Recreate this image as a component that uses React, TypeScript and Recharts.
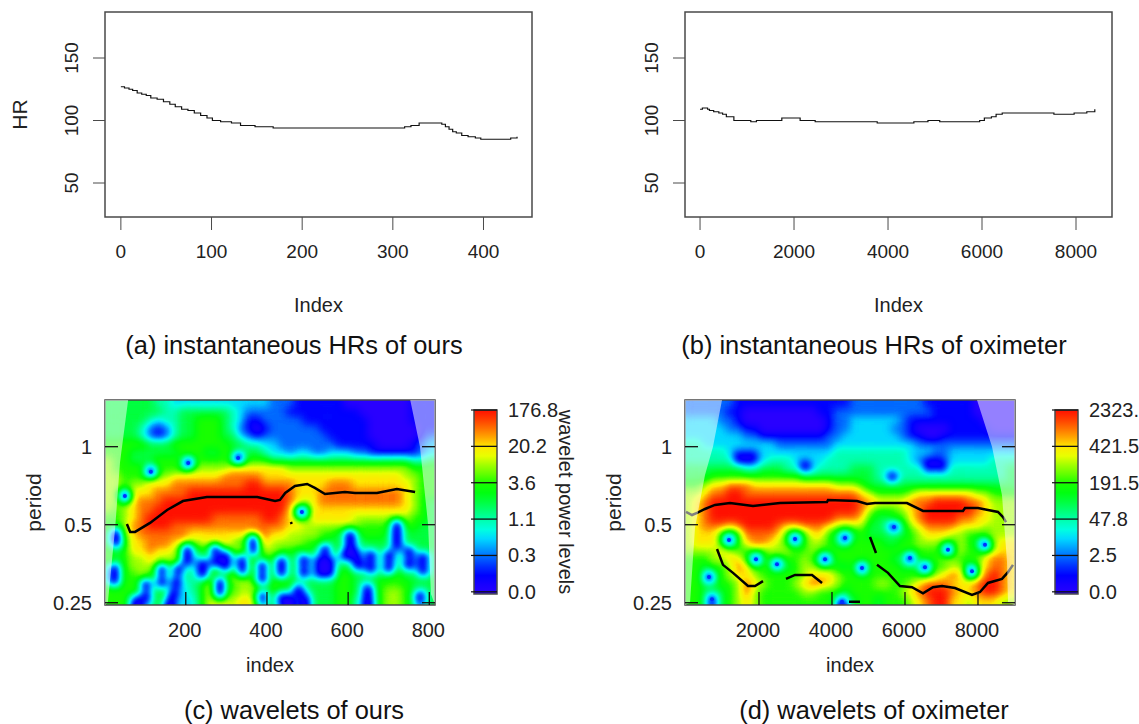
import React from 'react';
import {
  Area, Bar, BarChart, ComposedChart, Line, LineChart, ReferenceArea, ReferenceLine, Scatter, XAxis, YAxis,
} from 'recharts';

// top row: instantaneous HR
const oursHrIndex = [0, 4, 9, 13, 18, 23, 28, 33, 40, 47, 54, 60, 67, 74, 81, 88, 95, 101, 110, 122, 132, 148, 168, 299, 313, 320, 329, 354, 358, 362, 366, 370, 376, 383, 391, 397, 421, 430, 437];
const oursHrValue = [127, 126, 125, 124, 122, 121, 120, 118, 117, 115, 113, 111, 109, 108, 106, 104, 102, 100, 99, 98, 96, 95, 94, 94, 95, 96, 98, 97, 95, 93, 91, 90, 88, 87, 86, 85, 85, 86, 87];
const oxiHrIndex = [0, 50, 160, 200, 290, 400, 480, 560, 720, 1080, 1200, 1740, 2130, 2450, 3770, 4550, 4850, 5100, 5950, 6050, 6200, 6300, 6430, 7530, 7960, 8230, 8400];
const oxiHrValue = [109, 110, 109, 108, 107, 106, 105, 103, 100, 99, 100, 102, 100, 99, 98, 99, 100, 99, 100, 102, 103, 105, 106, 105, 106, 107, 109];
const oursHrTicks = [0, 100, 200, 300, 400];
const oxiHrTicks = [0, 2000, 4000, 6000, 8000];
const hrTicks = [50, 100, 150];

// wavelet panels, levels 0..10 run along the colour key
const keyTicks = [0, 2, 4, 6, 8, 10];
const oursKeyLabels = ['0.0', '0.3', '1.1', '3.6', '20.2', '176.8'];
const oxiKeyLabels = ['0.0', '2.5', '47.8', '191.5', '421.5', '2323.'];
const keyColors = ['#2a00ff', '#1800ff', '#0000ff', '#0030ff', '#0068ff', '#00a0ff', '#00d8ff', '#00ffe0', '#00ffb0', '#00ff78', '#00ff40', '#00ff10', '#18ff00', '#60ff00', '#a0ff00', '#e8ff00', '#ffe800', '#ffa800', '#ff7000', '#ff3c00', '#ff1000'];
const periodTicks = [0.25, 0.5, 1];
const oursIndexTicks = [200, 400, 600, 800];
const oxiIndexTicks = [2000, 4000, 6000, 8000];

const rowPeriods = [1.46, 1.36, 1.26, 1.17, 1.09, 1.02, 0.945, 0.88, 0.82, 0.76, 0.71, 0.66, 0.61, 0.57, 0.53, 0.49, 0.46, 0.425, 0.395, 0.37, 0.34, 0.32, 0.295, 0.275, 0.255];
const oursCols = [11, 31, 52, 72, 92, 113, 133, 153, 174, 194, 214, 235, 255, 275, 296, 316, 336, 356, 377, 397, 417, 438, 458, 478, 499, 519, 539, 560, 580, 600, 620, 641, 661, 681, 702, 722, 742, 763, 783, 803];
const oxiCols = [85, 311, 537, 763, 989, 1215, 1441, 1667, 1893, 2119, 2345, 2571, 2797, 3023, 3249, 3475, 3701, 3927, 4153, 4379, 4605, 4831, 5057, 5283, 5509, 5735, 5961, 6187, 6413, 6639, 6865, 7091, 7317, 7543, 7769, 7995, 8221, 8447, 8673, 8899];

const oursLevels = [
  [5, 5, 5, 5, 5, 5, 4, 4, 3, 3, 3, 3, 3, 3, 3, 3, 3, 3, 3, 3, 2, 2, 2, 1, 1, 1, 1, 1, 1, 0, 0, 0, 0, 0, 0, 0, 0, 1, 1, 1],
  [5, 5, 5, 5, 5, 5, 5, 4, 4, 5, 5, 5, 5, 5, 5, 4, 3, 2, 2, 2, 2, 2, 1, 1, 1, 1, 1, 1, 1, 1, 1, 0, 0, 0, 0, 0, 0, 1, 1, 1],
  [5, 5, 5, 5, 5, 4, 3, 4, 4, 5, 5, 6, 6, 6, 5, 4, 3, 1, 1, 2, 2, 2, 2, 2, 1, 1, 1, 1, 1, 1, 1, 1, 0, 0, 0, 0, 0, 1, 1, 1],
  [5, 5, 5, 5, 4, 2, 1, 2, 4, 5, 5, 6, 6, 6, 5, 4, 2, 1, 0, 1, 2, 2, 2, 2, 2, 2, 1, 1, 1, 1, 1, 1, 0, 0, 0, 0, 0, 0, 1, 1],
  [5, 5, 5, 5, 4, 2, 1, 2, 4, 5, 5, 6, 6, 6, 5, 5, 3, 2, 1, 2, 2, 2, 2, 2, 2, 2, 2, 1, 1, 1, 1, 1, 0, 0, 0, 0, 0, 0, 1, 2],
  [6, 6, 6, 6, 6, 5, 5, 5, 6, 6, 6, 6, 6, 6, 6, 5, 5, 4, 4, 3, 3, 2, 2, 2, 2, 2, 2, 2, 1, 1, 1, 1, 1, 0, 0, 0, 0, 1, 2, 3],
  [6, 6, 6, 5, 5, 5, 5, 5, 5, 6, 6, 6, 5, 5, 6, 6, 5, 5, 5, 4, 3, 3, 2, 3, 3, 2, 2, 3, 3, 3, 2, 2, 1, 1, 1, 1, 1, 1, 2, 3],
  [7, 6, 6, 5, 5, 5, 6, 6, 6, 6, 6, 6, 6, 6, 6, 6, 6, 6, 6, 6, 5, 5, 5, 5, 5, 5, 5, 5, 5, 5, 5, 5, 5, 5, 5, 5, 5, 4, 4, 5],
  [7, 6, 6, 6, 6, 6, 6, 6, 6, 6, 7, 7, 7, 7, 7, 8, 8, 8, 8, 8, 8, 8, 7, 7, 7, 7, 7, 7, 7, 7, 7, 7, 7, 7, 7, 7, 7, 6, 6, 6],
  [7, 7, 6, 6, 6, 7, 7, 7, 8, 8, 8, 8, 8, 8, 9, 9, 9, 9, 9, 8, 8, 8, 8, 8, 8, 8, 8, 8, 8, 8, 8, 8, 8, 8, 8, 8, 7, 7, 6, 6],
  [7, 7, 6, 7, 7, 8, 8, 8, 9, 9, 9, 9, 9, 9, 9, 9, 9, 10, 10, 9, 9, 9, 9, 8, 8, 8, 8, 9, 9, 9, 8, 8, 8, 8, 8, 8, 8, 7, 6, 6],
  [7, 7, 6, 8, 8, 8, 9, 9, 9, 9, 10, 10, 10, 10, 10, 10, 10, 10, 10, 10, 10, 10, 9, 8, 8, 8, 9, 9, 9, 9, 9, 9, 9, 9, 9, 9, 8, 7, 6, 6],
  [7, 7, 7, 8, 9, 9, 9, 10, 10, 10, 10, 10, 10, 10, 10, 10, 10, 10, 10, 10, 10, 10, 9, 8, 7, 8, 9, 9, 9, 9, 9, 9, 9, 9, 9, 9, 8, 7, 6, 5],
  [7, 6, 7, 8, 9, 9, 10, 10, 10, 10, 10, 10, 10, 10, 10, 10, 10, 10, 10, 10, 10, 10, 8, 6, 6, 8, 8, 8, 8, 8, 8, 8, 8, 8, 8, 8, 8, 7, 6, 5],
  [6, 6, 7, 8, 9, 10, 10, 10, 10, 10, 10, 10, 10, 9, 9, 9, 9, 9, 9, 10, 10, 9, 8, 7, 7, 8, 8, 8, 8, 8, 7, 7, 7, 7, 7, 7, 7, 6, 6, 5],
  [6, 6, 7, 9, 9, 10, 10, 10, 9, 9, 9, 9, 9, 9, 9, 9, 9, 9, 9, 9, 9, 9, 8, 8, 7, 7, 7, 7, 7, 7, 7, 6, 6, 6, 6, 5, 6, 6, 5, 5],
  [6, 5, 7, 8, 9, 9, 9, 9, 9, 9, 8, 8, 8, 8, 8, 8, 8, 8, 9, 9, 8, 8, 7, 7, 7, 7, 6, 6, 5, 5, 5, 6, 6, 6, 5, 4, 5, 5, 5, 5],
  [6, 5, 6, 8, 8, 9, 9, 9, 8, 8, 7, 7, 8, 8, 8, 7, 6, 7, 8, 8, 7, 7, 7, 7, 6, 6, 6, 5, 5, 4, 4, 5, 5, 5, 5, 4, 5, 5, 5, 5],
  [6, 5, 6, 8, 8, 9, 8, 8, 7, 6, 5, 5, 6, 7, 6, 7, 7, 7, 6, 7, 7, 6, 6, 5, 6, 5, 5, 5, 6, 5, 4, 4, 5, 5, 5, 4, 5, 5, 5, 5],
  [6, 5, 6, 7, 7, 8, 7, 7, 7, 6, 4, 4, 6, 7, 5, 5, 6, 7, 6, 6, 6, 5, 5, 5, 5, 4, 4, 5, 5, 5, 4, 4, 5, 5, 5, 4, 5, 4, 4, 5],
  [6, 4, 6, 7, 7, 7, 7, 6, 6, 5, 4, 4, 6, 6, 5, 6, 6, 6, 6, 5, 6, 5, 5, 5, 5, 4, 4, 5, 5, 5, 4, 4, 5, 5, 5, 5, 4, 4, 4, 5],
  [6, 4, 6, 6, 7, 6, 6, 6, 6, 5, 4, 5, 6, 6, 6, 7, 7, 6, 6, 5, 6, 6, 5, 5, 5, 4, 4, 5, 6, 6, 5, 5, 5, 5, 6, 6, 5, 5, 5, 5],
  [6, 5, 6, 6, 6, 6, 5, 6, 6, 4, 4, 5, 7, 7, 6, 6, 7, 7, 6, 5, 6, 6, 6, 5, 5, 5, 5, 5, 6, 6, 5, 4, 5, 6, 6, 6, 6, 5, 5, 5],
  [6, 6, 6, 6, 6, 5, 5, 6, 5, 3, 4, 5, 7, 7, 7, 6, 7, 7, 7, 5, 6, 5, 5, 4, 4, 5, 5, 5, 6, 6, 5, 4, 5, 6, 7, 7, 6, 5, 4, 5],
  [6, 6, 6, 5, 5, 5, 5, 6, 5, 3, 3, 5, 7, 8, 8, 7, 8, 8, 7, 5, 5, 5, 4, 3, 4, 5, 5, 5, 6, 6, 4, 3, 4, 6, 7, 7, 6, 5, 4, 5],
];

const oxiLevels = [
  [2, 2, 2, 2, 2, 2, 1, 1, 1, 1, 1, 1, 1, 1, 1, 1, 1, 1, 1, 1, 2, 2, 2, 2, 2, 2, 2, 2, 2, 1, 1, 1, 1, 1, 1, 0, 0, 0, 0, 0],
  [2, 2, 2, 2, 2, 1, 1, 0, 0, 0, 0, 0, 0, 0, 0, 0, 1, 1, 2, 2, 2, 2, 2, 2, 2, 2, 2, 2, 2, 2, 1, 1, 1, 1, 1, 0, 0, 0, 0, 0],
  [3, 3, 3, 3, 2, 2, 1, 0, 0, 0, 0, 0, 0, 0, 0, 0, 0, 1, 2, 2, 3, 3, 3, 3, 3, 3, 2, 1, 1, 1, 1, 1, 1, 1, 1, 1, 0, 0, 0, 0],
  [3, 3, 3, 3, 3, 2, 2, 1, 1, 0, 0, 0, 0, 0, 0, 0, 0, 1, 2, 2, 3, 3, 3, 3, 3, 2, 2, 1, 0, 0, 0, 0, 1, 1, 1, 1, 1, 0, 0, 0],
  [3, 3, 3, 3, 3, 3, 3, 2, 2, 1, 1, 1, 1, 1, 1, 1, 1, 2, 2, 3, 3, 3, 3, 3, 3, 3, 2, 1, 1, 0, 0, 1, 1, 1, 1, 1, 1, 1, 1, 1],
  [4, 4, 3, 3, 3, 3, 3, 3, 3, 3, 3, 2, 2, 2, 2, 2, 2, 2, 3, 3, 3, 3, 3, 3, 3, 3, 3, 3, 2, 2, 2, 2, 2, 2, 2, 2, 2, 2, 2, 2],
  [4, 4, 4, 4, 4, 3, 2, 2, 2, 3, 3, 3, 3, 3, 3, 3, 3, 3, 4, 4, 4, 4, 4, 4, 4, 4, 4, 3, 3, 3, 2, 2, 3, 3, 3, 3, 3, 3, 3, 3],
  [4, 4, 4, 4, 4, 4, 2, 1, 2, 3, 4, 4, 4, 3, 3, 3, 3, 4, 4, 4, 4, 4, 4, 4, 4, 4, 4, 3, 2, 1, 1, 2, 3, 3, 3, 3, 3, 4, 4, 4],
  [5, 5, 5, 5, 5, 5, 5, 4, 4, 5, 5, 5, 4, 4, 3, 3, 4, 4, 4, 4, 5, 5, 5, 4, 4, 4, 4, 4, 4, 3, 3, 3, 4, 4, 4, 4, 4, 4, 4, 5],
  [5, 5, 5, 6, 6, 6, 6, 6, 6, 6, 6, 6, 6, 6, 5, 5, 5, 5, 5, 5, 5, 5, 5, 4, 4, 3, 4, 4, 4, 4, 4, 4, 4, 4, 4, 4, 4, 4, 4, 5],
  [6, 6, 7, 8, 8, 9, 9, 9, 8, 8, 8, 8, 8, 8, 8, 8, 8, 8, 7, 7, 7, 6, 5, 5, 5, 5, 5, 5, 5, 5, 5, 5, 5, 5, 5, 5, 5, 5, 5, 5],
  [7, 7, 8, 9, 9, 10, 10, 9, 9, 9, 9, 9, 9, 9, 9, 9, 9, 9, 9, 9, 9, 8, 7, 6, 6, 6, 6, 7, 8, 8, 8, 8, 8, 8, 8, 7, 7, 6, 6, 6],
  [7, 8, 9, 10, 10, 10, 10, 10, 10, 10, 10, 10, 10, 10, 10, 10, 10, 10, 10, 10, 10, 9, 9, 8, 8, 8, 8, 9, 9, 9, 10, 10, 10, 10, 9, 9, 8, 7, 7, 7],
  [7, 8, 9, 10, 10, 10, 10, 10, 10, 10, 10, 10, 10, 10, 10, 10, 10, 10, 10, 10, 10, 9, 7, 6, 6, 6, 7, 8, 9, 10, 10, 10, 10, 10, 10, 9, 8, 7, 7, 7],
  [7, 8, 9, 10, 10, 10, 10, 10, 10, 10, 10, 10, 10, 10, 10, 10, 10, 10, 9, 9, 9, 8, 6, 5, 5, 6, 6, 8, 9, 10, 10, 10, 10, 9, 9, 8, 8, 7, 7, 7],
  [7, 8, 9, 9, 9, 8, 9, 10, 10, 10, 10, 9, 8, 8, 9, 9, 9, 8, 7, 6, 7, 7, 5, 5, 4, 5, 5, 7, 8, 9, 9, 9, 9, 8, 8, 8, 7, 7, 7, 7],
  [7, 8, 8, 8, 6, 5, 6, 9, 9, 9, 9, 8, 6, 5, 6, 8, 8, 6, 5, 5, 5, 6, 5, 5, 5, 5, 5, 6, 7, 8, 8, 8, 7, 7, 6, 6, 6, 7, 7, 7],
  [7, 8, 8, 8, 6, 5, 6, 8, 9, 9, 8, 7, 6, 5, 6, 7, 7, 6, 5, 5, 6, 6, 6, 6, 5, 5, 6, 6, 7, 7, 7, 6, 6, 7, 6, 5, 6, 7, 8, 8],
  [7, 7, 7, 7, 8, 7, 6, 6, 6, 6, 7, 7, 7, 6, 6, 7, 6, 6, 6, 6, 6, 6, 6, 6, 6, 6, 6, 6, 6, 6, 6, 6, 7, 7, 6, 6, 6, 7, 8, 8],
  [6, 6, 6, 7, 7, 8, 8, 6, 5, 6, 6, 6, 6, 6, 7, 6, 5, 5, 6, 6, 6, 6, 6, 6, 6, 5, 5, 5, 6, 6, 6, 7, 7, 6, 6, 6, 8, 9, 9, 8],
  [6, 6, 5, 6, 6, 7, 9, 8, 6, 6, 6, 6, 5, 6, 7, 7, 6, 6, 5, 5, 6, 5, 6, 6, 6, 6, 5, 5, 5, 5, 6, 6, 7, 7, 5, 7, 8, 9, 9, 8],
  [6, 6, 5, 5, 6, 7, 8, 8, 7, 6, 6, 6, 6, 6, 7, 8, 8, 8, 7, 6, 6, 6, 6, 6, 6, 6, 6, 6, 6, 6, 7, 8, 9, 8, 5, 7, 9, 10, 9, 8],
  [6, 6, 5, 5, 6, 6, 7, 9, 8, 7, 6, 6, 6, 7, 8, 9, 9, 8, 7, 6, 6, 6, 6, 7, 7, 6, 6, 7, 8, 9, 9, 9, 8, 8, 8, 9, 10, 10, 9, 8],
  [6, 6, 5, 5, 5, 6, 7, 9, 7, 6, 6, 6, 6, 6, 7, 7, 6, 6, 6, 5, 6, 6, 6, 6, 6, 6, 7, 8, 9, 10, 10, 10, 9, 8, 8, 9, 10, 10, 9, 8],
  [6, 6, 5, 5, 5, 6, 7, 8, 7, 6, 6, 6, 6, 6, 6, 6, 6, 6, 5, 5, 5, 6, 6, 5, 6, 6, 6, 7, 8, 9, 10, 10, 8, 8, 7, 8, 8, 8, 7, 7],
];

// low-power pockets between the grid rows
const oursSpotIndex = [114, 206, 329, 50, 28, 28, 23, 23, 141, 141, 102, 102, 77, 203, 203, 181, 176, 169, 161, 272, 272, 299, 299, 242, 242, 284, 284, 339, 339, 366, 366, 388, 388, 388, 486, 435, 435, 437, 491, 491, 531, 555, 531, 555, 543, 477, 457, 494, 605, 605, 592, 617, 625, 657, 657, 649, 649, 720, 720, 720, 700, 700, 750, 750, 785, 785, 777];
const oursSpotPeriod = [0.8, 0.865, 0.904, 0.645, 0.46, 0.43, 0.334, 0.306, 0.334, 0.3, 0.293, 0.263, 0.254, 0.4, 0.365, 0.334, 0.3, 0.27, 0.25, 0.4, 0.36, 0.379, 0.346, 0.35, 0.325, 0.298, 0.273, 0.365, 0.334, 0.436, 0.4, 0.346, 0.311, 0.263, 0.56, 0.359, 0.328, 0.26, 0.365, 0.328, 0.36, 0.36, 0.328, 0.328, 0.4, 0.28, 0.256, 0.256, 0.456, 0.418, 0.382, 0.382, 0.35, 0.379, 0.34, 0.28, 0.256, 0.498, 0.456, 0.418, 0.379, 0.34, 0.392, 0.352, 0.372, 0.334, 0.263];
const oxiSpotIndex = [1178, 1918, 2493, 2987, 3809, 4357, 630, 713, 4274, 4822, 5699, 6137, 6548, 7178, 8192, 7836, 1452, 1781, 3260, 5644, 6658, 6986];
const oxiSpotPeriod = [0.436, 0.368, 0.352, 0.44, 0.368, 0.444, 0.314, 0.258, 0.252, 0.34, 0.49, 0.372, 0.343, 0.4, 0.418, 0.331, 0.904, 0.904, 0.843, 0.764, 0.843, 0.843];

// blue cores of the smallest pockets
const oursCoreIndex = [114, 206, 329, 50, 486];
const oursCorePeriod = [0.8, 0.865, 0.904, 0.645, 0.56];
const oxiCoreIndex = [1178, 1918, 2493, 2987, 3809, 4357, 630, 713, 4274, 4822, 5699, 6137, 6548, 7178, 8192, 7836];
const oxiCorePeriod = [0.436, 0.368, 0.352, 0.44, 0.368, 0.444, 0.314, 0.258, 0.252, 0.34, 0.49, 0.372, 0.343, 0.4, 0.418, 0.331];

// ridges, null breaks the line
const oursRidgeIndex = [55, 63, 75, 112, 154, 193, 252, 376, 420, 432, 445, 469, 499, 518, 543, 592, 617, 671, 720, 765, 766, 459, 461];
const oursRidgePeriod = [0.503, 0.469, 0.469, 0.508, 0.57, 0.617, 0.639, 0.639, 0.617, 0.623, 0.663, 0.705, 0.718, 0.693, 0.657, 0.668, 0.663, 0.663, 0.687, 0.668, null, 0.512, 0.503];
const oxiRidgeIndex = [1, 165, 302, 521, 795, 1206, 1836, 2576, 3863, 3891, 4685, 4959, 5178, 6055, 6494, 7589, 7644, 8000, 8548, 8685, 8768, 8770,
  850, 1014, 1288, 1699, 1891, 2110, 2111, 2740, 2987, 3453, 3727, 3728, 5041, 5206, 5207, 5233, 5534, 5863, 6192, 6494, 6767, 7014, 7370, 7836, 8055, 8274, 8658, 8822, 8959, 8960, 4466, 4767];
const oxiRidgePeriod = [0.56, 0.545, 0.555, 0.575, 0.596, 0.606, 0.59, 0.606, 0.612, 0.623, 0.617, 0.601, 0.606, 0.606, 0.565, 0.565, 0.58, 0.58, 0.56, 0.535, 0.512, null,
  0.403, 0.35, 0.326, 0.29, 0.29, 0.303, null, 0.309, 0.32, 0.32, 0.298, null, 0.448, 0.389, null, 0.35, 0.326, 0.29, 0.287, 0.272, 0.287, 0.29, 0.285, 0.268, 0.275, 0.298, 0.309, 0.328, 0.35, null, 0.252, 0.252];

// cone of influence: pale above these periods
const oursCoiLeftIndex = [1, 8, 26, 38, 58];
const oursCoiLeftPeriod = [0.245, 0.25, 0.486, 0.87, 1.514];
const oursCoiRightIndex = [753, 777, 797, 804, 814];
const oursCoiRightPeriod = [1.514, 1, 0.5, 0.27, 0.245];
const oxiCoiLeftIndex = [-27, 110, 247, 521, 740, 987];
const oxiCoiLeftPeriod = [0.245, 0.25, 0.486, 0.778, 1, 1.514];
const oxiCoiRightIndex = [7973, 8384, 8658, 8795, 8822, 9014];
const oxiCoiRightPeriod = [1.514, 1, 0.65, 0.36, 0.25, 0.245];

const FONT = '"Liberation Sans", Arial, sans-serif';
const TEXT = '#222';
const BOX = '#4a4a4a';
const PERIOD_TOP = 1.514;
const PERIOD_BOTTOM = 0.245;

const channel = (start: number) => keyColors.map((c) => parseInt(c.slice(start, start + 2), 16) / 255).join(' ');

function zip(xs: number[], ys: (number | null)[], key: string) {
  return xs.map((x, i) => ({ index: x, [key]: ys[i] }));
}

function coi(xs: number[], ys: number[]) {
  return xs.map((x, i) => ({ index: x, band: [ys[i], PERIOD_TOP] }));
}

function RotatedTick({ x, y, payload }: any) {
  return (
    <text x={x} y={y} fill={TEXT} fontSize={19} fontFamily={FONT} textAnchor="middle" transform={`rotate(-90 ${x} ${y})`}>
      {payload.value}
    </text>
  );
}

function HrPanel({ left, hrIndex, hrValue, xTicks, xDomain, showHr }: any) {
  const data = hrIndex.map((x: number, i: number) => ({ index: x, hr: hrValue[i] }));
  return (
    <div style={{ position: 'absolute', left, top: 0 }}>
      <LineChart width={560} height={330} data={data} margin={{ top: 12, right: 28, bottom: 13, left: 0 }}>
        <XAxis
          dataKey="index" type="number" domain={xDomain} ticks={xTicks} height={100} axisLine={false} interval={0}
          tickSize={13} tickMargin={15} stroke={BOX} tick={{ fill: TEXT, fontSize: 19, fontFamily: FONT }}
          label={{ value: 'Index', position: 'insideBottom', offset: 5, fill: TEXT, fontSize: 20, fontFamily: FONT }}
        />
        <YAxis
          dataKey="hr" type="number" domain={[22.8, 186.8]} ticks={hrTicks} width={105} axisLine={false} interval={0}
          tickSize={12} tickMargin={15} stroke={BOX} tick={<RotatedTick />}
          label={showHr ? { value: 'HR', angle: -90, position: 'insideLeft', offset: 20, textAnchor: 'middle', fill: TEXT, fontSize: 21, fontFamily: FONT } : undefined}
        />
        <ReferenceArea x1={xDomain[0]} x2={xDomain[1]} y1={22.8} y2={186.8} fill="none" stroke={BOX} strokeWidth={1.5} fillOpacity={0} ifOverflow="visible" />
        <Line dataKey="hr" type="stepAfter" stroke="#111" strokeWidth={1.2} dot={false} isAnimationActive={false} />
      </LineChart>
    </div>
  );
}

function HeatMark({ cx, cy, payload, spotRadius }: any) {
  const shade = Math.round((payload.level / 10) * 255);
  const fill = `rgb(${shade},${shade},${shade})`;
  if (payload.spot) return <circle cx={cx} cy={cy} r={spotRadius} fill={fill} />;
  return <rect x={cx - 4.4} y={cy - 4.4} width={8.8} height={8.8} fill={fill} />;
}

function CoreMark({ cx, cy }: any) {
  return <circle cx={cx} cy={cy} r={2} fill="#0030ff" />;
}

function IndexTick({ x, y, payload }: any) {
  return (
    <g>
      <line x1={x} x2={x} y1={y} y2={y - 13} stroke="#111" strokeWidth={1.3} />
      <text x={x - 1} y={y + 32} fill={TEXT} fontSize={20} fontFamily={FONT} textAnchor="middle">{payload.value}</text>
    </g>
  );
}

function PeriodTick({ x, y, payload }: any) {
  return (
    <g>
      <line x1={x} x2={x + 13} y1={y} y2={y} stroke="#111" strokeWidth={1.3} />
      <line x1={x + 317} x2={x + 330} y1={y} y2={y} stroke="#111" strokeWidth={1.3} />
      <text x={x - 13} y={y + 7} fill={TEXT} fontSize={20} fontFamily={FONT} textAnchor="end">{payload.value}</text>
    </g>
  );
}

function WaveletPanel({ left, id, levels, cols, spotIndex, spotPeriod, spotRadius, core, ridge, coiLeft, coiRight, xDomain, xTicks }: any) {
  const cells = levels.flatMap((row: number[], r: number) =>
    row.map((level, c) => ({ index: cols[c], period: rowPeriods[r], level, spot: false })));
  const spots = spotIndex.map((x: number, i: number) => ({ index: x, period: spotPeriod[i], level: 0, spot: true }));
  return (
    <div style={{ position: 'absolute', left, top: 390 }}>
      <style>{`.${id}{filter:url(#${id}Filter)}`}</style>
      <ComposedChart width={450} height={300} margin={{ top: 10, right: 15, bottom: 0, left: 0 }}>
        <defs>
          <filter id={`${id}Filter`} filterUnits="userSpaceOnUse" x={105} y={10} width={330} height={205} colorInterpolationFilters="sRGB">
            <feGaussianBlur stdDeviation={4} />
            <feComponentTransfer>
              <feFuncR type="table" tableValues={channel(1)} />
              <feFuncG type="table" tableValues={channel(3)} />
              <feFuncB type="table" tableValues={channel(5)} />
              <feFuncA type="linear" slope={40} />
            </feComponentTransfer>
          </filter>
        </defs>
        <XAxis
          dataKey="index" type="number" domain={xDomain} ticks={xTicks} height={85} axisLine={false} tickLine={false} interval={0}
          tickSize={0} tickMargin={0} allowDataOverflow tick={<IndexTick />}
          label={{ value: 'index', position: 'insideBottom', offset: 18, fill: TEXT, fontSize: 20, fontFamily: FONT }}
        />
        <YAxis
          dataKey="period" type="number" scale="log" domain={[PERIOD_BOTTOM, PERIOD_TOP]} ticks={periodTicks} width={105} axisLine={false} tickLine={false} interval={0}
          tickSize={0} tickMargin={0} allowDataOverflow tick={<PeriodTick />}
          label={{ value: 'period', angle: -90, position: 'insideLeft', offset: 34, textAnchor: 'middle', fill: TEXT, fontSize: 21, fontFamily: FONT }}
        />
        <Scatter className={id} data={[...cells, ...spots]} shape={(p: any) => <HeatMark {...p} spotRadius={spotRadius} />} isAnimationActive={false} zIndex={50} />
        <Scatter data={core} shape={<CoreMark />} isAnimationActive={false} zIndex={60} />
        <Line data={ridge} dataKey="period" stroke="#000" strokeWidth={2.5} dot={false} connectNulls={false} isAnimationActive={false} />
        <Area data={coiLeft} dataKey="band" stroke="none" fill="#fff" fillOpacity={0.5} isAnimationActive={false} zIndex={450} />
        <Area data={coiRight} dataKey="band" stroke="none" fill="#fff" fillOpacity={0.5} isAnimationActive={false} zIndex={450} />
        <ReferenceArea x1={xDomain[0]} x2={xDomain[1]} y1={PERIOD_BOTTOM} y2={PERIOD_TOP} fill="none" fillOpacity={0} stroke={BOX} strokeWidth={1.5} ifOverflow="visible" />
      </ComposedChart>
    </div>
  );
}

function KeyTick({ x, y, payload, labels }: any) {
  return (
    <g>
      <line x1={x - 26} x2={x - 23} y1={y} y2={y} stroke="#111" strokeWidth={1.2} />
      <text x={x + 11} y={y + 7} fill={TEXT} fontSize={20} fontFamily={FONT}>{labels[keyTicks.indexOf(payload.value)]}</text>
    </g>
  );
}

function ColourKey({ left, id, labels, title }: any) {
  return (
    <div style={{ position: 'absolute', left, top: 380 }}>
      <BarChart width={120} height={245} data={[{ name: 'key', span: [-0.12, 10] }]} barCategoryGap={0} margin={{ top: 30, right: 0, bottom: 31, left: 9 }}>
        <defs>
          <linearGradient id={id} x1="0" y1="1" x2="0" y2="0">
            {keyColors.map((c, i) => <stop key={c} offset={i / (keyColors.length - 1)} stopColor={c} />)}
          </linearGradient>
        </defs>
        <XAxis dataKey="name" hide />
        <YAxis
          orientation="right" type="number" domain={[-0.12, 10]} ticks={keyTicks} width={88} axisLine={false} tickLine={false} interval={0}
          tickSize={0} tickMargin={0} tick={<KeyTick labels={labels} />}
          label={title ? { value: title, angle: 90, position: 'insideRight', offset: 19, textAnchor: 'middle', fill: TEXT, fontSize: 20, fontFamily: FONT } : undefined}
        />
        <Bar dataKey="span" fill={`url(#${id})`} isAnimationActive={false} stroke={BOX} strokeWidth={1.5} />
        {keyTicks.map((t) => <ReferenceLine key={t} y={t} stroke="#111" strokeWidth={1.3} />)}
      </BarChart>
    </div>
  );
}

function Caption({ center, top, children }: any) {
  return (
    <div style={{ position: 'absolute', left: center - 280, width: 560, top, textAlign: 'center', fontFamily: FONT, fontSize: 25.4, color: '#111', lineHeight: '28px' }}>
      {children}
    </div>
  );
}

export default function App() {
  return (
    <div style={{ position: 'absolute', left: 0, top: 0, width: 1139, height: 724, overflow: 'hidden', background: '#fff' }}>
      <HrPanel left={0} hrIndex={oursHrIndex} hrValue={oursHrValue} xTicks={oursHrTicks} xDomain={[-17.5, 453.5]} showHr />
      <HrPanel left={580} hrIndex={oxiHrIndex} hrValue={oxiHrValue} xTicks={oxiHrTicks} xDomain={[-320, 8766]} showHr={false} />
      <Caption center={294} top={331}>(a) instantaneous HRs of ours</Caption>
      <Caption center={874} top={331}>(b) instantaneous HRs of oximeter</Caption>
      <WaveletPanel
        left={0} id="oursHeat" levels={oursLevels} cols={oursCols} spotIndex={oursSpotIndex} spotPeriod={oursSpotPeriod} spotRadius={6}
        core={zip(oursCoreIndex, oursCorePeriod, 'period')}
        ridge={zip(oursRidgeIndex, oursRidgePeriod, 'period')} coiLeft={coi(oursCoiLeftIndex, oursCoiLeftPeriod)} coiRight={coi(oursCoiRightIndex, oursCoiRightPeriod)}
        xDomain={[1, 814]} xTicks={oursIndexTicks}
      />
      <WaveletPanel
        left={580} id="oxiHeat" levels={oxiLevels} cols={oxiCols} spotIndex={oxiSpotIndex} spotPeriod={oxiSpotPeriod} spotRadius={5.5}
        core={zip(oxiCoreIndex, oxiCorePeriod, 'period')}
        ridge={zip(oxiRidgeIndex, oxiRidgePeriod, 'period')} coiLeft={coi(oxiCoiLeftIndex, oxiCoiLeftPeriod)} coiRight={coi(oxiCoiRightIndex, oxiCoiRightPeriod)}
        xDomain={[-27, 9014]} xTicks={oxiIndexTicks}
      />
      <ColourKey left={465} id="oursKey" labels={oursKeyLabels} title="wavelet power levels" />
      <ColourKey left={1046} id="oxiKey" labels={oxiKeyLabels} />
      <Caption center={294} top={696}>(c) wavelets of ours</Caption>
      <Caption center={874} top={696}>(d) wavelets of oximeter</Caption>
    </div>
  );
}
